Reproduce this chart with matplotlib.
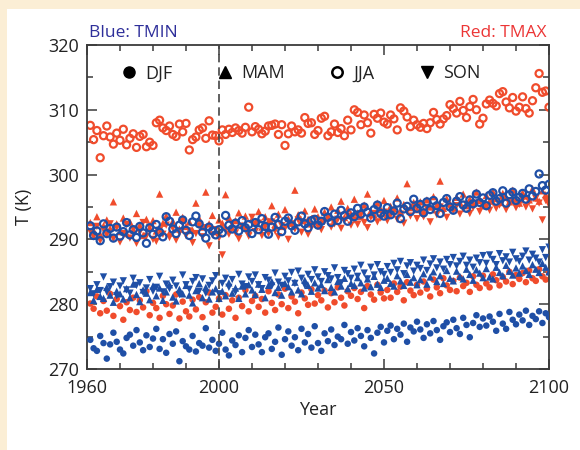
import numpy as np
import matplotlib
matplotlib.use("Agg")
import matplotlib.pyplot as plt
from matplotlib.lines import Line2D
from matplotlib.ticker import FixedLocator, MultipleLocator

plt.rcParams['font.family'] = ['Open Sans', 'DejaVu Sans']

years = list(range(1961, 2101))

tmin_djf = [
    274.5, 273.2, 272.8, 275.1, 274.0, 271.6, 273.8, 275.6, 274.2, 273.0,
    272.4, 274.8, 275.3, 273.6, 276.0, 274.1, 272.9, 275.2, 273.4, 274.7,
    276.2, 273.1, 274.6, 272.5, 275.4, 273.9, 275.8, 271.2, 274.3, 273.5,
    273.0, 275.1, 272.7, 274.0, 273.6, 276.3, 273.3, 274.5, 272.8, 273.9,
    275.6, 273.0, 272.1, 274.4, 273.7, 275.2, 272.6, 274.8, 276.0, 273.4,
    275.3, 273.8, 272.6, 274.9, 275.5, 273.1, 274.2, 276.4, 272.2, 274.6,
    275.8, 273.6, 274.9, 272.9, 276.2, 274.1, 275.4, 273.3, 276.6, 274.0,
    272.8, 275.5, 274.3, 276.1, 273.7, 275.0, 274.6, 276.8, 273.9, 275.7,
    274.4, 276.3, 275.1, 273.5, 276.0, 274.8, 272.4, 275.6, 276.5, 274.1,
    275.9, 276.7, 274.6, 276.2, 275.3, 277.0, 274.2, 276.4, 275.8, 277.3,
    276.1, 274.8, 276.9, 275.5, 277.4, 276.0, 274.5, 276.6, 277.2, 275.7,
    277.6, 276.3, 275.4, 277.9, 276.8, 274.9, 277.1, 278.3, 276.5, 277.8,
    276.7, 278.1, 277.3, 275.9, 278.5, 277.0, 276.2, 278.8, 277.6, 276.9,
    278.4, 277.5, 279.0, 276.8, 278.2, 277.7, 278.9, 277.1, 278.6, 278.0]

tmax_djf = [
    280.1, 279.3, 281.2, 278.6, 280.5, 279.0, 281.6, 278.2, 280.8, 279.7,
    277.6, 280.3, 279.1, 281.0, 278.8, 280.6, 279.5, 282.0, 278.3, 280.2,
    279.4, 277.9, 281.3, 280.0, 278.5, 279.8, 281.5, 277.8, 280.4, 278.9,
    278.1, 280.7, 279.2, 281.1, 278.0, 280.3, 281.8, 278.7, 279.6, 280.9,
    278.4, 281.4, 279.3, 280.6, 277.9, 281.0, 279.7, 282.2, 278.9, 280.5,
    281.3, 279.6, 280.8, 278.7, 282.0, 280.2, 279.1, 281.5, 280.0, 282.4,
    279.4, 281.2, 280.4, 278.6, 281.8, 280.9, 279.9, 282.3, 280.1, 281.4,
    280.6, 282.1, 279.5, 281.7, 280.3, 282.6, 281.0, 279.8, 282.0, 281.3,
    282.5, 280.8, 281.9, 279.4, 282.8, 281.5, 280.7, 283.0, 281.8, 280.9,
    282.2, 281.0, 283.2, 281.9, 282.7, 280.6, 283.4, 282.1, 281.4, 283.0,
    281.8, 283.5, 282.4, 281.2, 283.8, 282.6, 281.7, 284.0, 282.9, 282.2,
    283.6, 282.0, 284.1, 282.8, 283.3, 281.9, 284.3, 283.0, 282.5, 284.4,
    283.2, 282.6, 284.6, 283.7, 282.9, 284.2, 283.5, 285.0, 283.1, 284.5,
    283.9, 284.8, 283.4, 285.2, 284.0, 283.6, 285.4, 284.3, 283.8, 284.9]

tmin_mam = [
    281.8, 280.6, 282.3, 281.2, 280.9, 282.6, 281.4, 280.3, 282.0, 281.6,
    280.8, 282.4, 281.0, 283.1, 281.5, 280.4, 282.2, 281.7, 280.7, 282.8,
    281.3, 282.5, 280.6, 281.9, 283.0, 281.1, 280.5, 282.3, 281.6, 282.9,
    281.4, 280.2, 282.1, 283.2, 281.0, 282.6, 280.8, 281.9, 282.4, 280.9,
    282.0, 281.3, 283.3, 281.7, 282.5, 280.9, 282.8, 281.6, 283.0, 282.2,
    281.5, 283.1, 282.3, 281.0, 282.9, 283.5, 281.8, 282.6, 281.4, 283.2,
    282.7, 281.9, 283.4, 282.2, 281.6, 283.7, 282.9, 282.0, 283.3, 282.5,
    283.0, 282.1, 283.8, 282.6, 281.9, 283.5, 282.8, 284.0, 282.4, 283.2,
    282.9, 284.1, 283.3, 282.5, 283.9, 282.7, 284.3, 283.1, 282.6, 283.7,
    284.0, 283.2, 282.8, 284.4, 283.6, 282.9, 284.6, 283.4, 284.1, 283.0,
    283.8, 284.7, 283.1, 284.2, 285.0, 283.5, 284.4, 283.2, 285.2, 284.0,
    283.6, 285.1, 284.3, 283.9, 285.4, 284.6, 283.7, 285.3, 284.8, 284.1,
    285.5, 284.2, 283.9, 285.7, 284.9, 284.4, 286.0, 285.1, 284.5, 285.6,
    284.8, 285.9, 285.2, 284.6, 286.1, 285.4, 284.9, 286.3, 285.7, 285.0]

tmin_son = [
    282.4, 281.6, 283.0, 282.1, 284.2, 281.9, 282.7, 283.4, 281.3, 282.8,
    283.6, 282.2, 281.7, 284.0, 282.9, 283.3, 281.8, 282.5, 283.8, 282.0,
    282.6, 284.3, 281.9, 283.1, 282.4, 283.7, 282.8, 281.5, 284.5, 283.0,
    282.3, 283.5, 284.1, 282.0, 283.9, 281.7, 282.9, 283.6, 284.4, 281.6,
    283.2, 284.0, 282.6, 283.8, 281.9, 284.6, 283.1, 282.7, 284.2, 283.5,
    284.5, 283.0, 282.4, 284.1, 283.7, 282.8, 284.8, 283.4, 282.9, 284.3,
    283.6, 284.9, 283.2, 285.1, 284.0, 282.9, 284.6, 283.8, 285.3, 284.2,
    283.5, 285.0, 284.4, 283.9, 285.6, 284.1, 283.3, 285.2, 284.7, 284.0,
    285.4, 284.3, 286.0, 284.8, 283.9, 285.7, 284.5, 286.1, 285.0, 284.6,
    285.8, 284.9, 286.3, 285.3, 286.6, 284.7, 285.9, 286.4, 285.1, 286.0,
    285.5, 286.8, 285.2, 286.2, 287.0, 285.6, 286.5, 285.4, 286.9, 286.1,
    287.2, 285.9, 286.6, 287.4, 286.0, 286.8, 285.7, 287.1, 286.4, 287.5,
    286.3, 287.6, 286.9, 286.1, 287.8, 286.7, 287.3, 286.5, 288.0, 287.0,
    286.6, 287.4, 288.2, 286.8, 287.7, 287.1, 286.5, 288.4, 287.2, 288.8]

tmax_mam = [
    292.6, 291.4, 293.5, 290.8, 292.1, 293.0, 291.7, 295.8, 292.4, 291.2,
    293.3, 290.9, 292.7, 291.5, 294.0, 292.2, 290.6, 293.1, 291.8, 292.9,
    291.3, 297.0, 292.5, 293.6, 291.0, 292.8, 294.2, 291.6, 293.4, 292.0,
    292.7, 291.4, 295.6, 293.2, 291.9, 297.3, 292.4, 293.7, 291.2, 293.0,
    292.5, 296.9, 293.4, 291.8, 292.9, 294.1, 292.2, 293.6, 291.5, 293.1,
    292.6, 294.3, 291.9, 293.5, 292.8, 295.2, 292.3, 293.9, 292.0, 294.6,
    293.2, 292.5, 297.6, 293.8, 292.9, 294.4, 293.1, 292.4, 294.7, 293.5,
    292.8, 294.2, 293.6, 295.0, 293.0, 294.5, 295.9, 293.4, 294.8, 293.9,
    296.2, 294.1, 293.5, 295.3, 297.0, 294.4, 293.8, 295.6, 294.6, 296.0,
    293.9, 295.1, 294.7, 296.4, 294.3, 295.4, 298.6, 294.9, 295.7, 294.6,
    295.8, 294.4, 296.1, 295.0, 296.6, 295.3, 299.0, 294.8, 296.3, 295.5,
    294.9, 296.5, 295.7, 297.0, 295.2, 296.2, 295.6, 297.3, 296.0, 295.4,
    296.8, 295.9, 297.4, 296.3, 295.7, 297.1, 296.5, 295.8, 297.6, 296.2,
    295.6, 297.2, 296.7, 296.1, 297.8, 296.4, 295.9, 297.5, 296.9, 296.3]

tmax_son = [
    291.2, 290.4, 292.0, 289.8, 291.5, 290.7, 292.4, 290.1, 291.8, 289.6,
    290.9, 292.3, 290.2, 291.6, 289.4, 291.1, 292.6, 290.5, 291.9, 290.0,
    289.7, 291.4, 290.8, 292.2, 290.3, 291.7, 289.9, 291.0, 292.5, 290.6,
    291.3, 289.5, 290.9, 292.1, 290.4, 291.8, 289.0, 290.7, 291.5, 290.2,
    287.6, 291.4, 290.8, 292.3, 291.0, 290.1, 292.0, 291.6, 290.5, 293.4,
    291.2, 292.5, 290.6, 291.9, 290.9, 292.7, 291.3, 290.4, 292.1, 291.7,
    290.0, 292.4, 291.6, 293.0, 291.1, 292.6, 290.8, 291.9, 293.2, 292.0,
    291.5, 292.8, 293.5, 291.9, 292.4, 293.1, 291.7, 292.9, 293.6, 292.2,
    293.0, 292.3, 293.8, 292.6, 291.8, 293.4, 294.0, 292.7, 293.3, 294.2,
    292.9, 293.7, 294.4, 293.1, 293.9, 292.5, 294.3, 293.6, 294.7, 293.2,
    294.1, 293.5, 294.8, 292.7, 294.5, 293.8, 295.0, 294.2, 293.4, 294.9,
    294.4, 295.2, 293.9, 294.7, 295.4, 294.0, 294.9, 295.6, 294.3, 295.1,
    295.0, 294.5, 295.7, 294.8, 295.3, 296.0, 294.6, 295.5, 295.9, 294.9,
    295.4, 296.1, 295.0, 295.8, 294.7, 296.3, 295.6, 293.0, 296.0, 295.3]

tmin_jja = [
    292.1, 290.6, 291.3, 289.8, 292.4, 290.9, 291.7, 290.2, 291.9, 290.5,
    291.2, 292.6, 290.7, 291.5, 290.3, 292.0, 291.0, 289.4, 291.8, 290.8,
    292.3, 291.1, 290.4, 293.5, 292.8, 291.6, 290.9, 292.2, 293.0, 291.4,
    290.6, 292.7, 293.6, 292.4, 291.1, 290.2, 291.9, 291.3, 290.7, 291.5,
    291.0, 293.7, 292.2, 291.6, 292.5, 291.3, 292.9, 291.8, 292.3, 290.9,
    292.6, 291.5, 293.2, 292.0, 290.8, 291.9, 293.4, 292.3, 291.2, 292.8,
    293.3, 292.1, 291.4, 292.7, 293.6, 292.4, 291.8, 292.9, 293.1, 292.2,
    292.8, 294.3, 293.4, 292.6, 293.9, 292.9, 294.5, 293.7, 292.8, 294.1,
    293.5, 294.8, 293.9, 295.0, 294.2, 293.3, 294.6, 295.3, 294.0, 293.6,
    294.9, 293.8, 294.4, 295.6, 293.2, 294.7, 295.1, 294.3, 296.2, 294.8,
    295.4, 294.1, 295.8, 294.6, 296.0, 295.2, 294.0, 295.7, 296.3, 295.0,
    294.5, 295.9, 296.6, 295.3, 294.8, 296.1, 295.5, 297.0, 295.7, 296.4,
    295.2, 296.8, 297.2, 295.9, 296.3, 297.5, 295.6, 296.9, 297.3, 296.0,
    296.5, 297.1, 296.2, 297.8, 296.7, 297.4, 300.1, 298.3, 297.6, 298.5]

tmax_jja = [
    307.6, 305.4, 306.8, 302.6, 306.0, 307.5, 305.8, 304.7, 306.4, 305.3,
    307.0, 304.6, 305.6, 306.3, 304.2, 305.9, 306.2, 304.3, 305.0, 304.5,
    308.0, 308.4, 307.2, 306.8, 307.5, 306.2, 305.9, 307.8, 306.6, 307.9,
    303.8, 305.4, 305.8, 306.9, 307.2, 305.6, 308.3, 306.1, 306.0, 305.2,
    306.9, 306.2, 307.0, 306.5, 307.2, 306.8, 306.4, 307.3, 310.4, 306.6,
    307.4, 307.0, 306.3, 306.7, 307.5, 307.6, 307.8, 306.2, 307.7, 304.5,
    306.3, 307.5, 306.6, 306.9, 306.4, 308.8, 307.9, 308.0, 306.2, 306.8,
    308.7, 309.0, 306.0, 306.6, 307.8, 306.5, 307.1, 306.0, 308.4, 306.9,
    310.0, 309.6, 307.7, 309.2, 308.0, 306.4, 309.3, 308.7, 309.5, 308.1,
    307.8, 309.2, 308.6, 306.9, 310.3, 309.8, 308.9, 307.4, 308.4, 307.7,
    307.3, 307.9, 307.1, 308.0, 309.6, 308.5, 307.8, 308.6, 309.1, 310.8,
    310.2, 309.5, 311.3, 309.9, 308.8, 310.5, 311.6, 310.0, 307.8, 308.7,
    310.9, 311.5, 311.0, 310.6, 312.5, 312.8, 311.2, 310.3, 311.9, 309.8,
    310.4, 312.0, 310.2, 309.5, 311.4, 313.4, 315.6, 312.7, 312.9, 310.4]

season_labels = ['DJF', 'MAM', 'JJA', 'SON']
x_major = [1960, 2000, 2050, 2100]
y_major = [270, 280, 290, 300, 310, 320]

RED = '#f04c2c'
BLUE = '#1f4fa6'
CREAM = '#fbeed5'
AX = '#3a3a3a'
FS = 13

fig = plt.figure(figsize=(5.8, 4.5), dpi=100)
fig.patch.set_facecolor(CREAM)
fig.add_artist(plt.Rectangle((7 / 580, 0), 1, 1 - 9 / 450, transform=fig.transFigure,
                             facecolor='white', edgecolor='none', zorder=0))

ax = fig.add_axes([87 / 580, 1 - 369 / 450, 462 / 580, 324 / 450])
ax.set_facecolor('white')

ms = 22
ms_open = 26

def draw(vals_djf, vals_mam, vals_jja, vals_son, color, z):
    ax.scatter(years, vals_djf, s=ms, marker='o', color=color, edgecolors='none', zorder=z)
    ax.scatter(years, vals_mam, s=ms + 6, marker='^', color=color, edgecolors='none', zorder=z)
    ax.scatter(years, vals_jja, s=ms_open, marker='o', facecolors='none', edgecolors=color,
               linewidths=1.6, zorder=z)
    ax.scatter(years, vals_son, s=ms + 6, marker='v', color=color, edgecolors='none', zorder=z)

draw(tmax_djf, tmax_mam, tmax_jja, tmax_son, RED, 2)
draw(tmin_djf, tmin_mam, tmin_jja, tmin_son, BLUE, 3)

ax.axvline(2000, color='#444444', lw=1.2, ls=(0, (5, 3)), zorder=4)

ax.set_xlim(1960, 2100)
ax.set_ylim(270, 320)
ax.xaxis.set_major_locator(FixedLocator(x_major))
ax.xaxis.set_minor_locator(MultipleLocator(10))
ax.yaxis.set_major_locator(FixedLocator(y_major))
ax.yaxis.set_minor_locator(MultipleLocator(5))
ax.tick_params(which='both', direction='in', top=True, right=True, color=AX,
               labelsize=FS, labelcolor='#222222', width=1.1)
ax.tick_params(which='major', length=7)
ax.tick_params(axis='x', which='major', pad=7)
ax.tick_params(axis='y', which='major', pad=6)
ax.tick_params(which='minor', length=4)
for s in ax.spines.values():
    s.set_color(AX)
    s.set_linewidth(1.3)

ax.set_xlabel('Year', fontsize=FS, color='#222222', labelpad=3)
ax.set_ylabel('T (K)', fontsize=FS, color='#222222', labelpad=11)

ax.text(0.005, 1.012, 'Blue: TMIN', transform=ax.transAxes, color='#2e2f9a',
        fontsize=FS - 0.5, ha='left', va='bottom')
ax.text(0.995, 1.012, 'Red: TMAX', transform=ax.transAxes, color='#ec3535',
        fontsize=FS - 0.5, ha='right', va='bottom')

handles = [
    Line2D([], [], ls='none', marker='o', color='black', markersize=8),
    Line2D([], [], ls='none', marker='^', color='black', markersize=8),
    Line2D([], [], ls='none', marker='o', markerfacecolor='none', markeredgecolor='black',
           markeredgewidth=1.8, markersize=7.5),
    Line2D([], [], ls='none', marker='v', color='black', markersize=8),
]
leg = ax.legend(handles, season_labels, ncol=4, loc='upper center',
                bbox_to_anchor=(0.463, 0.99), frameon=False, fontsize=FS,
                handlelength=0.8, handletextpad=0.5, columnspacing=2.5)
for t in leg.get_texts():
    t.set_color('#222222')

fig.savefig('out.png', dpi=100, facecolor=fig.get_facecolor())
